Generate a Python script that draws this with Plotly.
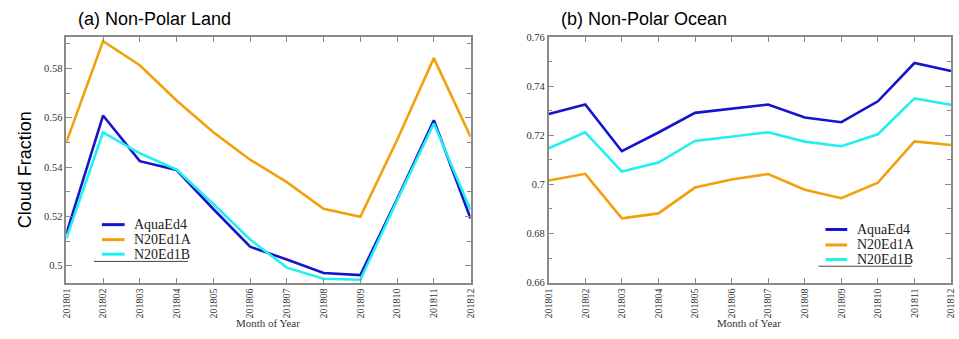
import plotly.graph_objects as go

W, H = 959, 339

months = ["201801", "201802", "201803", "201804", "201805", "201806",
          "201807", "201808", "201809", "201810", "201811", "201812"]
series_names = ["AquaEd4", "N20Ed1A", "N20Ed1B"]
series_colors = ["#1414CC", "#F2A00C", "#22F0F0"]

# (a) Non-Polar Land
land_aqua = [0.5129, 0.5609, 0.5424, 0.5388, 0.5230, 0.5077, 0.5025, 0.4970, 0.4962, 0.5270, 0.5590, 0.5191]
land_n20a = [0.5500, 0.5911, 0.5813, 0.5670, 0.5541, 0.5430, 0.5339, 0.5231, 0.5198, 0.5510, 0.5842, 0.5522]
land_n20b = [0.5110, 0.5541, 0.5456, 0.5390, 0.5250, 0.5106, 0.4992, 0.4947, 0.4943, 0.5265, 0.5577, 0.5225]

# (b) Non-Polar Ocean
ocean_aqua = [0.7286, 0.7325, 0.7135, 0.7211, 0.7291, 0.7308, 0.7325, 0.7272, 0.7253, 0.7338, 0.7494, 0.7461]
ocean_n20a = [0.7016, 0.7043, 0.6862, 0.6882, 0.6987, 0.7020, 0.7042, 0.6978, 0.6944, 0.7007, 0.7175, 0.7160]
ocean_n20b = [0.7147, 0.7212, 0.7052, 0.7089, 0.7177, 0.7195, 0.7212, 0.7174, 0.7155, 0.7204, 0.7350, 0.7324]

land_range = [0.4931, 0.5928]
ocean_range = [0.66, 0.76]

SERIF = "Liberation Serif, Times New Roman, Times, serif"
SANS = "Liberation Sans, Arial, Helvetica, sans-serif"


def px(x):
    return x / W


def py(y):
    return 1 - y / H


fig = go.Figure()

for vals, name, col in zip([land_aqua, land_n20a, land_n20b], series_names, series_colors):
    fig.add_trace(go.Scatter(x=months, y=vals, mode="lines", name=name,
                             line=dict(color=col, width=2.6), showlegend=False,
                             xaxis="x", yaxis="y"))
for vals, name, col in zip([ocean_aqua, ocean_n20a, ocean_n20b], series_names, series_colors):
    fig.add_trace(go.Scatter(x=months, y=vals, mode="lines", name=name,
                             line=dict(color=col, width=2.6), showlegend=False,
                             xaxis="x2", yaxis="y2"))

axcol = "#8a8a8a"

xcommon = dict(type="category", categoryorder="array", categoryarray=months,
               range=[0, 11], showgrid=False, zeroline=False,
               showline=True, linecolor=axcol, linewidth=1.5, mirror="ticks",
               ticks="inside", ticklen=5, tickcolor=axcol, tickwidth=1.2,
               tickangle=-90, ticklabeloverflow="allow",
               tickfont=dict(family=SERIF, size=10, color="#333333"))
ycommon = dict(showgrid=False, zeroline=False, showline=True, linecolor=axcol,
               linewidth=1.5, mirror="ticks", ticks="inside", ticklen=6,
               tickcolor=axcol, tickwidth=1.2, dtick=0.02,
               tickfont=dict(family=SERIF, size=10.5, color="#333333"),
               minor=dict(ticks="inside", ticklen=4, dtick=0.01, tickcolor=axcol, tickwidth=1.2))

ydom = [py(287), py(33)]
fig.update_layout(
    width=W, height=H, autosize=False,
    margin=dict(l=0, r=0, t=0, b=0),
    paper_bgcolor="white", plot_bgcolor="white",
    xaxis=dict(domain=[px(61), px(470)], anchor="y", **xcommon),
    yaxis=dict(domain=ydom, anchor="x", range=land_range, tick0=0.5, **ycommon),
    xaxis2=dict(domain=[px(549), px(956)], anchor="y2", **xcommon),
    yaxis2=dict(domain=ydom, anchor="x2", range=ocean_range, tick0=0.66, **ycommon),
)

ann = []
shapes = []
# panel titles
ann.append(dict(text="(a) Non-Polar Land", x=px(71), y=py(14), xref="paper", yref="paper",
                xanchor="left", yanchor="middle", showarrow=False,
                font=dict(family=SANS, size=18, color="black")))
ann.append(dict(text="(b) Non-Polar Ocean", x=px(559), y=py(14), xref="paper", yref="paper",
                xanchor="left", yanchor="middle", showarrow=False,
                font=dict(family=SANS, size=18, color="black")))
# y axis title
ann.append(dict(text="Cloud Fraction", x=px(20), y=py(170), xref="paper", yref="paper",
                xanchor="center", yanchor="middle", showarrow=False, textangle=-90,
                font=dict(family=SANS, size=18, color="black")))
# x axis titles
for cx in (265, 752):
    ann.append(dict(text="Month of Year", x=px(cx), y=py(329), xref="paper", yref="paper",
                    xanchor="center", yanchor="middle", showarrow=False,
                    font=dict(family=SERIF, size=11, color="#333333")))

# legends (drawn manually to match the underlined style)
legends = [
    dict(x0=97, x1=120, tx=127, rows=[227, 242.5, 257.5], ul=(89, 184, 265)),
    dict(x0=829, x1=851, tx=859, rows=[232, 248, 263], ul=(822, 916, 270)),
]
for lg in legends:
    for name, col, ry in zip(series_names, series_colors, lg["rows"]):
        shapes.append(dict(type="line", xref="paper", yref="paper",
                           x0=px(lg["x0"]), x1=px(lg["x1"]), y0=py(ry), y1=py(ry),
                           line=dict(color=col, width=3)))
        ann.append(dict(text=name, x=px(lg["tx"]), y=py(ry), xref="paper", yref="paper",
                        xanchor="left", yanchor="middle", showarrow=False,
                        font=dict(family=SERIF, size=14, color="#222222")))
    ux0, ux1, uy = lg["ul"]
    shapes.append(dict(type="line", xref="paper", yref="paper",
                       x0=px(ux0), x1=px(ux1), y0=py(uy), y1=py(uy),
                       line=dict(color="#444444", width=1)))

fig.update_layout(annotations=ann, shapes=shapes)
fig.write_html("out.html", config={"displayModeBar": False},
               post_script="document.body.style.margin='0';document.body.style.overflow='hidden';")
